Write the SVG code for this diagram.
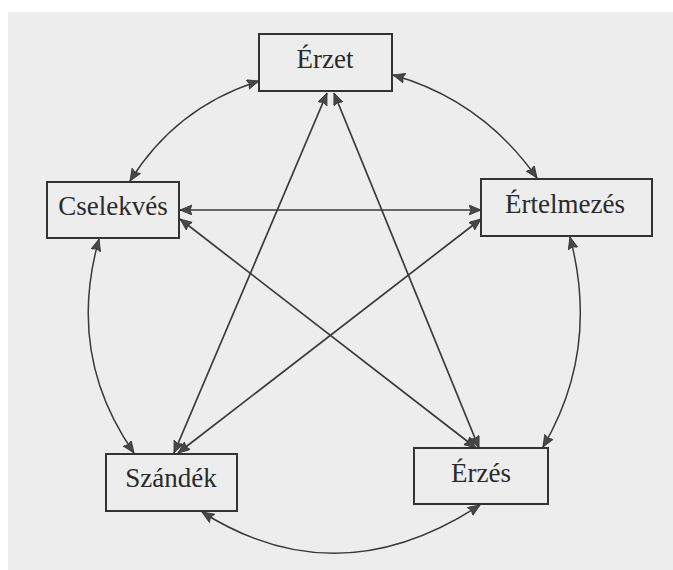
<svg xmlns="http://www.w3.org/2000/svg" width="673" height="570" viewBox="0 0 673 570">
<style>
.box{fill:none;stroke:#333;stroke-width:2}
.lbl{font-family:"Liberation Serif","Times New Roman",serif;font-size:27px;fill:#2a2a2a;text-anchor:middle}
.edge{fill:none;stroke:#3a3a3a;stroke-width:1.7;marker-start:url(#ah);marker-end:url(#ah)}
.arc{stroke-width:1.5}
</style>
<defs>
<marker id="ah" markerUnits="userSpaceOnUse" markerWidth="14" markerHeight="12" refX="12" refY="5" orient="auto-start-reverse">
<path d="M0,0 L12,5 L0,10 L2,5 z" fill="#484848" stroke="#333" stroke-width="0.8"/>
</marker>
</defs>
<rect x="0" y="0" width="673" height="570" fill="#ffffff"/>
<rect x="8" y="12" width="665" height="558" fill="#ededed"/>
<g id="connectors">
<path class="edge arc" d="M259,81 Q176,107 130,181"/>
<path class="edge arc" d="M393,75 Q482,100 537,178"/>
<path class="edge arc" d="M99,239 Q66,356 134,453"/>
<path class="edge arc" d="M570,237 Q600,350 543,447"/>
<path class="edge arc" d="M202,512 Q338,598 480,505"/>
<path class="edge" d="M327,93 L174,453"/>
<path class="edge" d="M334,93 L479,448"/>
<path class="edge" d="M180,210 L481,210"/>
<path class="edge" d="M180,219 L476,448"/>
<path class="edge" d="M481,219 L178,453"/>
</g>
<g id="erzet">
<rect class="box" x="259" y="34" width="133" height="57"/>
<text class="lbl" x="325" y="68">Érzet</text>
</g>
<g id="cselekves">
<rect class="box" x="47" y="182" width="132" height="56"/>
<text class="lbl" x="113" y="215">Cselekvés</text>
</g>
<g id="ertelmezes">
<rect class="box" x="481" y="179" width="171" height="57"/>
<text class="lbl" x="565" y="213">Értelmezés</text>
</g>
<g id="szandek">
<rect class="box" x="106" y="454" width="131" height="57"/>
<text class="lbl" x="171" y="487">Szándék</text>
</g>
<g id="erzes">
<rect class="box" x="414" y="448" width="134" height="56"/>
<text class="lbl" x="481" y="482">Érzés</text>
</g>
</svg>
